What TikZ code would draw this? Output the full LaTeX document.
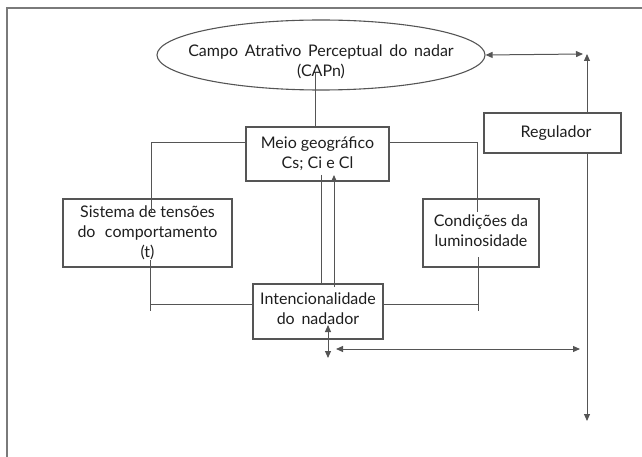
\documentclass[tikz,border=0pt]{standalone}
\usepackage{fontspec}
\setmainfont{Lato}
\usetikzlibrary{shapes.geometric,arrows.meta}
\definecolor{linegray}{HTML}{555555}
\definecolor{framegray}{HTML}{7A7A7A}
\definecolor{textgray}{HTML}{1E1E1E}
\begin{document}
\begin{tikzpicture}[x=1pt,y=-1pt,
  box/.style={draw=linegray,line width=1.1pt,rectangle,inner sep=0pt,align=center,
    text=textgray,font=\fontsize{16}{20}\selectfont},
  txt/.style={inner sep=0pt,align=center,text=textgray,font=\fontsize{16}{20}\selectfont},
  conn/.style={draw=linegray,line width=1pt},
  tip/.style={-{Triangle[length=7pt,width=6pt]}},
  tips/.style={{Triangle[length=7pt,width=6pt]}-{Triangle[length=7pt,width=6pt]}}
  ]
\useasboundingbox (0,0) rectangle (642,457);
% frame
\begin{scope}
\clip (0,0) rectangle (642,457);
\draw[framegray,line width=1.5pt] (7,8) rectangle (660,470);
\end{scope}
% ellipse
\node[ellipse,draw=linegray,line width=1.1pt,minimum width=328pt,minimum height=70pt,inner sep=0pt] (capn) at (321,55) {};
\node[txt] (capntext) at (321,62) {Campo\, Atrativo\, Perceptual\, do\, nadar\\(CAPn)};
% boxes
\node[box,minimum width=143pt,minimum height=54pt] (meio) at (317.5,154) {Meio geográfico\\Cs; Ci e Cl};
\node[box,minimum width=169pt,minimum height=68pt] (sist) at (147.5,233) {Sistema de tensões\\do\,\, comportamento\\(t)};
\node[box,minimum width=116pt,minimum height=68pt,text depth=5pt] (cond) at (481,233) {Condições da\\luminosidade};
\node[box,minimum width=130pt,minimum height=55pt,text depth=6pt] (intenc) at (318,311.5) {Intencionalidade\\do\, nadador};
\node[box,minimum width=137pt,minimum height=40pt] (reg) at (552.5,133) {\hspace*{7pt}Regulador};
% coordinates
\coordinate (capnfoot) at (315,73);
\coordinate (sistin) at (151,212);
\coordinate (condin) at (477,212);
\coordinate (sistout) at (150,260);
\coordinate (sisttick) at (150,311);
\coordinate (condout) at (478,257);
\coordinate (condtick) at (478,311);
\coordinate (meioinL) at (321,175);
\coordinate (meioinR) at (334,175);
\coordinate (intencinR) at (334,287);
\coordinate (intencA) at (328,325);
\coordinate (intencB) at (328,358);
\coordinate (hA) at (336,349);
\coordinate (hB) at (580,349);
\coordinate (topR) at (583,54);
\coordinate (vtop) at (587,54);
\coordinate (vbot) at (587,421);
% connectors
\draw[conn] (capnfoot) -- (capnfoot |- meio.north);
\draw[conn] (meio.west |- 0,143) -- (sistin |- 0,143) -- (sistin);
\draw[conn] (meio.east |- 0,143) -- (condin |- 0,143) -- (condin);
\draw[conn] (sistout) -- (sisttick);
\draw[conn] (sistout |- 0,304) -- (intenc.west |- 0,304);
\draw[conn] (condout) -- (condtick);
\draw[conn] (condout |- 0,304) -- (intenc.east |- 0,304);
\draw[conn] (meioinL) -- (meioinL |- intenc.north);
\draw[conn,tip] (intencinR) -- (meioinR);
\draw[conn,tips] (intencA) -- (intencB);
\draw[conn,tips] (hA) -- (hB);
\draw[conn,tips] (capn.east) -- (topR);
\draw[conn,tip] (reg.north -| vtop) -- (vtop);
\draw[conn,tip] (reg.south -| vbot) -- (vbot);
\end{tikzpicture}
\end{document}
